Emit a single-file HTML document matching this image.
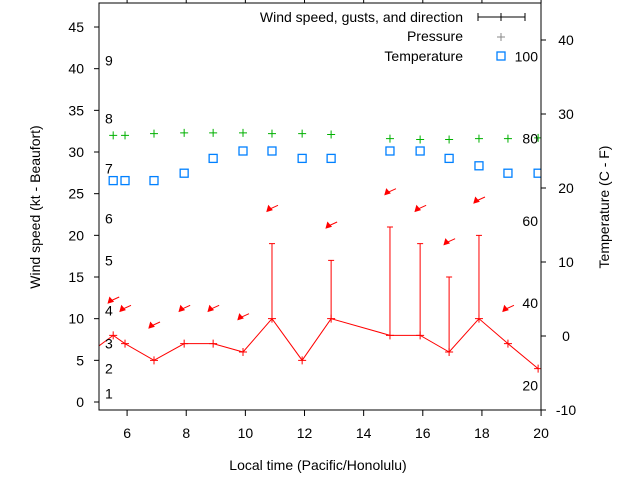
<!DOCTYPE html>
<html><head><meta charset="utf-8"><style>
body{margin:0;background:#fff;}
svg text{font-family:"Liberation Sans",sans-serif;font-size:14px;fill:#000;}
</style></head><body>
<svg id="chart" width="640" height="480" xmlns="http://www.w3.org/2000/svg">
<defs><clipPath id="pc"><rect x="99" y="3" width="442" height="407"/></clipPath></defs>
<g id="series" clip-path="url(#pc)"></g>
<rect x="99" y="3" width="442" height="407" fill="none" stroke="#000"/>
<g id="axes"></g>
<text x="0" y="0" transform="translate(40,207) rotate(-90)" text-anchor="middle">Wind speed (kt - Beaufort)</text>
<text x="0" y="0" transform="translate(609,207) rotate(-90)" text-anchor="middle">Temperature (C - F)</text>
<text x="318" y="470" text-anchor="middle">Local time (Pacific/Honolulu)</text>
<g>
<text x="463" y="22" text-anchor="end">Wind speed, gusts, and direction</text>
<line x1="478" y1="17" x2="525" y2="17" stroke="#000"/><line x1="478" y1="13" x2="478" y2="21" stroke="#000"/><line x1="525" y1="13" x2="525" y2="21" stroke="#000"/><line x1="501" y1="13" x2="501" y2="21" stroke="#000"/>
<text x="463" y="41" text-anchor="end">Pressure</text>
<path d="M497 37h8M501 33v8" stroke="#888"/>
<text x="463" y="61" text-anchor="end">Temperature</text>
<rect x="497" y="52" width="8" height="8" fill="none" stroke="#0080ff" stroke-width="1.3"/>
</g>
</svg>
<script>
const hours=[5.53,5.93,6.91,7.93,8.91,9.92,10.9,11.92,12.9,14.89,15.91,16.89,17.9,18.88,19.9];
const wind=[8,7,5,7,7,6,10,5,10,8,8,6,10,7,4];
const gusts=[null,null,null,null,null,null,19,null,17,21,19,15,20,null,null];
const pressure=[32,32,32.2,32.3,32.3,32.3,32.2,32.2,32.1,31.6,31.5,31.5,31.6,31.6,31.7];
const temperature=[21,21,21,22,24,25,25,24,24,25,25,24,23,22,22];
const arrowHours=[5.53,5.93,6.91,7.93,8.91,9.92,10.9,12.9,14.89,15.91,16.89,17.9,18.88];
const arrowLevels=[12,11,9,11,11,10,23,21,25,23,19,24,11];
const xTicks=[6,8,10,12,14,16,18,20];
const yTicks=[0,5,10,15,20,25,30,35,40,45];
const y2Ticks=[-10,0,10,20,30,40];
const beaufort=["1","2","3","4","5","6","7","8","9"];
const beaufortKt=[1,4,7,11,17,22,28,34,41];
const fahr=[20,40,60,80,100];
const NS="http://www.w3.org/2000/svg";
const X=h=>99+(h-5.05)*29.57;
const Y=v=>402-v*8.333;
const Y2=c=>336-c*7.4;
const ax=document.getElementById('axes'),se=document.getElementById('series');
function mk(t,a,p){const e=document.createElementNS(NS,t);for(const k in a)e.setAttribute(k,a[k]);p.appendChild(e);return e;}
xTicks.forEach(t=>{const x=X(t);
const l=mk('path',{d:`M${x} 410v6M${x} 3v-4`,stroke:'#000'},ax);


const tx=mk('text',{x:x,y:438,'text-anchor':'middle'},ax);tx.textContent=t;

});
yTicks.forEach(t=>{const y=Y(t);
const l=mk('path',{d:`M99 ${y}h-5`,stroke:'#000'},ax);


const tx=mk('text',{x:84,y:y+5,'text-anchor':'end'},ax);tx.textContent=t;

});
y2Ticks.forEach(t=>{const y=Y2(t);
const l=mk('path',{d:`M541 ${y}h5`,stroke:'#000'},ax);


const tx=mk('text',{x:566,y:y+5,'text-anchor':'middle'},ax);tx.textContent=t;

});
beaufort.forEach((b,i)=>{const tx=mk('text',{x:105,y:Y(beaufortKt[i])+5},ax);tx.textContent=b;

});
fahr.forEach(f=>{const tx=mk('text',{x:538,y:Y2((f-32)/1.8)+5,'text-anchor':'end'},ax);tx.textContent=f;

});
let d=`M${X(5.0)} ${Y(6.6)}`;hours.forEach((h,i)=>d+=`L${X(h)} ${Y(wind[i])}`);
const wl=mk('path',{d:d,stroke:'#f00',fill:'none'},se);


hours.forEach((h,i)=>{const x=X(h),y=Y(wind[i]);
const m=mk('path',{d:`M${x-4} ${y}h8M${x} ${y-4}v8`,stroke:'#f00'},se);


if(gusts[i]!=null){const g=Y(gusts[i]);
const e=mk('path',{d:`M${x} ${y}V${g}M${x-3} ${g}h6`,stroke:'#f00'},se);

}
const p=mk('path',{d:`M${x-4} ${Y(pressure[i])}h8M${x} ${Y(pressure[i])-4}v8`,stroke:'#00b000'},se);


const s=mk('rect',{x:x-4,y:Y2(temperature[i])-4,width:8,height:8,fill:'none',stroke:'#0080ff','stroke-width':1.3},se);

});
arrowHours.forEach((h,i)=>{const x=X(h)-5,y=Y(arrowLevels[i]);
const a=mk('g',{},se);


mk('path',{d:`M${x} ${y}l11 -5`,stroke:'#f00'},a);
mk('path',{d:`M${x} ${y+1}l1.5 -5.5l3.5 4z`,fill:'#f00',stroke:'#f00'},a);});
</script>
</body></html>
